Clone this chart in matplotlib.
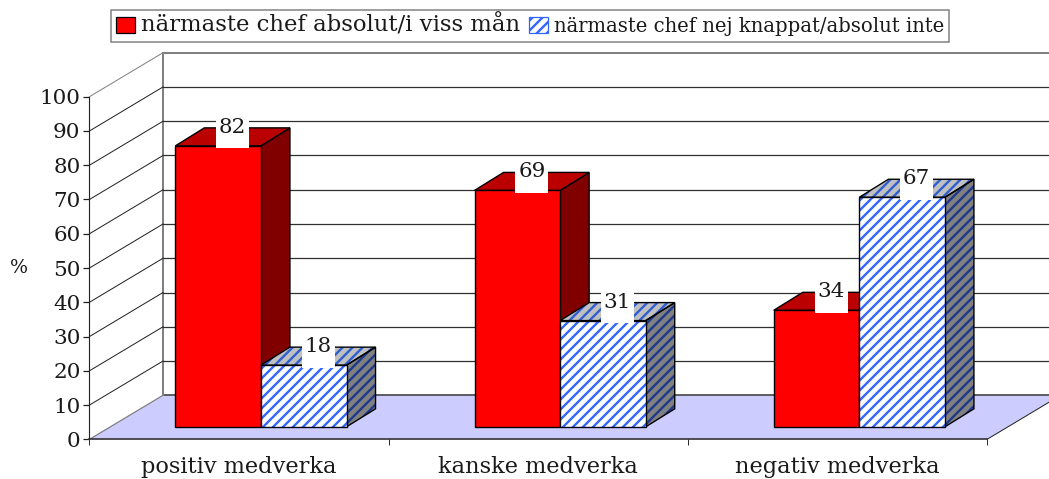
import matplotlib
matplotlib.use('Agg')
import matplotlib.pyplot as plt
from matplotlib.patches import Polygon, Rectangle

plt.rcParams['font.family'] = ['DejaVu Serif', 'Liberation Serif']
plt.rcParams['hatch.linewidth'] = 1.9

categories = ['positiv medverka', 'kanske medverka', 'negativ medverka']
chef_ja = [82, 69, 34]
chef_nej = [18, 31, 67]
yticks = [0, 10, 20, 30, 40, 50, 60, 70, 80, 90, 100]
legend_labels = ['närmaste chef absolut/i viss mån', 'närmaste chef nej knappat/absolut inte']

# colours
RED, RED_TOP, RED_SIDE = '#ff0000', '#bb0000', '#800000'
BLUE, BLUE_TOP, BLUE_SIDE = '#3366ff', '#2f5fd0', '#1f3a8c'
FLOOR = '#ccccff'
TEXT = '#1a1a1a'

W, H = 1049, 479
DPI = 90  # hatch tile follows the dpi, 90 gives the 15 px stripe spacing
# one unit on x = one category (299.2 px), one unit on y = 3.426 px
XS, YS = 299.2, 3.426
X0, Y0 = 89.5, 439.3

fig = plt.figure(figsize=(W / DPI, H / DPI), dpi=DPI, facecolor='white')
ax = fig.add_axes([0, 0, 1, 1])
ax.set_xlim(-X0 / XS, (W - X0) / XS)
ax.set_ylim((Y0 - H) / YS, Y0 / YS)
ax.patch.set_visible(False)

# depth of the floor and of the bars
dx, dy = 73.5 / XS, 44 / YS
bar_dx, bar_dy = 29 / XS, 18 / YS
bar_w = 85.6 / XS
base = 12.5 / YS
shift = 0.073


def face(pts, color, hatch=None, hatch_color=None, z=3):
    if hatch:
        ax.add_patch(Polygon(pts, facecolor=color, edgecolor=hatch_color, hatch=hatch, lw=0, zorder=z))
        ax.add_patch(Polygon(pts, fill=False, edgecolor='black', lw=1.1, zorder=z + 0.1))
    else:
        ax.add_patch(Polygon(pts, facecolor=color, edgecolor='black', lw=1.1, zorder=z))


def bar3d(x, v, front, top, side, hatch=None, tc=None, sc=None, fc=None, z=3):
    y1 = base + v
    face([(x + bar_w, base), (x + bar_w + bar_dx, base + bar_dy), (x + bar_w + bar_dx, y1 + bar_dy), (x + bar_w, y1)],
         side, hatch, sc, z)
    face([(x, y1), (x + bar_dx, y1 + bar_dy), (x + bar_w + bar_dx, y1 + bar_dy), (x + bar_w, y1)],
         top, hatch, tc, z)
    face([(x, base), (x + bar_w, base), (x + bar_w, y1), (x, y1)], front, hatch, fc, z + 0.2)
    # white box behind the value label
    lx = x + bar_w / 2 + bar_dx / 2
    ax.add_patch(Rectangle((lx - 16.5 / XS, y1 - 2.5 / YS), 33 / XS, 33 / YS, facecolor='white',
                           edgecolor='none', zorder=9))
    ax.text(lx, y1 + 18.5 / YS, str(v), ha='center', va='center', fontsize=17.2, color=TEXT, zorder=10)


# floor and walls
ax.add_patch(Polygon([(0, 0), (3, 0), (3 + dx, dy), (dx, dy)], facecolor=FLOOR, edgecolor='none', zorder=1))
ax.plot([dx, 3 + dx], [dy, dy], color='#404040', lw=1.3, zorder=1.5)
ax.plot([3, 3 + dx], [0, dy], color='#222222', lw=0.8, zorder=1.5)
ax.plot([dx, dx], [dy, 100 + dy], color='#808080', lw=1.6, zorder=1.5)
ax.plot([0, dx], [0, dy], color='#808080', lw=1, zorder=1.5)
for t in yticks[1:]:
    c = '#808080' if t == 100 else '#303030'
    ax.plot([0, dx], [t, t + dy], color='#808080' if t == 100 else '#222222', lw=0.8, zorder=1.5)
    ax.plot([dx, 3 + dx], [t + dy, t + dy], color=c, lw=1.6 if t == 100 else 1, zorder=1.5)

# bars, left group first so the right side overlaps correctly
for i in range(3):
    cx = i + 0.5 + shift
    bar3d(cx - bar_w, chef_ja[i], RED, RED_TOP, RED_SIDE, z=3 + i)
    bar3d(cx, chef_nej[i], 'white', '#c0c0c0', '#808080', hatch='///', tc=BLUE_TOP, sc=BLUE_SIDE, fc=BLUE, z=3.5 + i)

# axes
for s in ['top', 'right']:
    ax.spines[s].set_visible(False)
ax.spines['left'].set_position(('data', 0))
ax.spines['bottom'].set_position(('data', 0))
ax.spines['left'].set_bounds(0, 100)
ax.spines['bottom'].set_bounds(0, 3)
ax.spines['left'].set_color('#202020')
ax.spines['bottom'].set_color('#303030')
ax.spines['left'].set_linewidth(0.9)
ax.spines['bottom'].set_linewidth(1.3)
ax.spines['left'].set_zorder(2)
ax.spines['bottom'].set_zorder(2)
ax.set_yticks(yticks)
ax.set_yticklabels([str(t) for t in yticks])
ax.tick_params(axis='y', length=4.8, width=1, pad=2.4, labelsize=17.2, labelcolor=TEXT, color='#202020')
ax.set_xticks([0, 1, 2, 3])
ax.set_xticklabels([])
ax.set_xticks([0.5, 1.5, 2.5], minor=True)
ax.set_xticklabels(categories, minor=True)
ax.tick_params(axis='x', which='major', length=4.8, width=0.8, color='#303030')
ax.tick_params(axis='x', which='minor', length=0, pad=13.6, labelsize=18, labelcolor=TEXT)

ax.text(-70 / XS, (Y0 - 268) / YS, '%', ha='center', va='center', fontsize=15.2, color=TEXT)

# legend
h1 = Rectangle((0, 0), 1, 1, facecolor=RED, edgecolor='black', lw=1)
h2 = Rectangle((0, 0), 1, 1, facecolor='white', edgecolor=BLUE, lw=1, hatch='///')
leg = ax.legend([h1, h2], legend_labels, ncol=2, loc='upper left', bbox_to_anchor=(111 / W, 1 - 9.5 / H),
                bbox_transform=fig.transFigure, fancybox=False, edgecolor='#808080', framealpha=1,
                borderaxespad=0, fontsize=16, handlelength=0.95, handleheight=0.8, handletextpad=0.3,
                columnspacing=0.45, borderpad=0.25)
leg.get_frame().set_linewidth(1.2)
leg.set_zorder(10)
leg.get_texts()[0].set_fontsize(18.2)
leg.get_texts()[1].set_fontsize(15.7)
for t in leg.get_texts():
    t.set_color(TEXT)

fig.savefig('out.png', dpi=DPI)
